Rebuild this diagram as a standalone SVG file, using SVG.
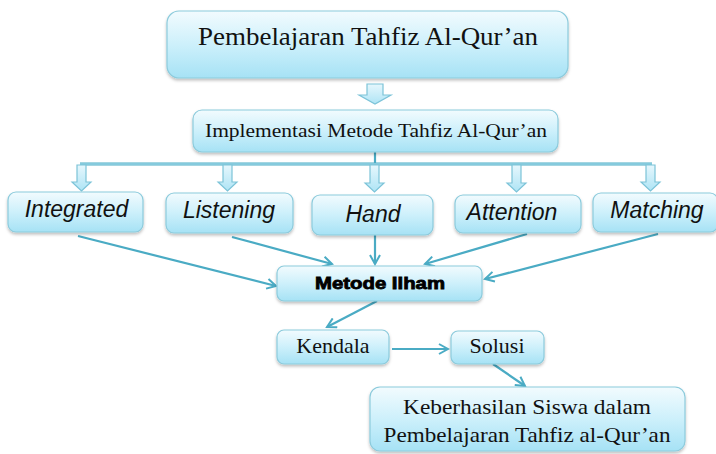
<svg xmlns="http://www.w3.org/2000/svg" width="716" height="454" viewBox="0 0 716 454">
<defs>
<linearGradient id="g" x1="0" y1="0" x2="0" y2="1">
<stop offset="0" stop-color="#f2fbfe"/>
<stop offset="0.5" stop-color="#cdf0fb"/>
<stop offset="1" stop-color="#a6e2f5"/>
</linearGradient>
<linearGradient id="ga" x1="0" y1="0" x2="0" y2="1">
<stop offset="0" stop-color="#e6f7fd"/>
<stop offset="1" stop-color="#aee4f5"/>
</linearGradient>
<filter id="sh" x="-10%" y="-20%" width="120%" height="150%">
<feDropShadow dx="0" dy="2" stdDeviation="1.5" flood-color="#000" flood-opacity="0.25"/>
</filter>
<marker id="ah" viewBox="0 0 12 12" refX="10" refY="6" markerWidth="12" markerHeight="12" markerUnits="userSpaceOnUse" orient="auto">
<path d="M1,1 L10,6 L1,11" fill="none" stroke="#4aabc4" stroke-width="2"/>
</marker>
</defs>
<style>
.box{fill:url(#g);stroke:#8ccbdc;stroke-width:1.2;filter:url(#sh)}
.serif{font-family:"Liberation Serif","DejaVu Serif",serif;fill:#111}
.it{font-family:"Liberation Sans",Arial,sans-serif;font-style:italic;font-size:23px;fill:#111}
.bold{font-family:"Liberation Sans",Arial,sans-serif;font-weight:bold;font-size:17px;fill:#000;stroke:#000;stroke-width:0.8}
.con{stroke:#4aabc4;stroke-width:2.2;fill:none}
.barr{fill:url(#ga);stroke:#7cc3d8;stroke-width:1.2}
</style>

<g id="connectors">
<line class="con" x1="375" y1="152" x2="375" y2="164"/>
<line x1="80" y1="164" x2="652" y2="164" stroke="#4aabc4" stroke-width="3"/>
<line x1="80" y1="164" x2="652" y2="164" stroke="#bfe9f6" stroke-width="1"/>
<path class="barr" d="M367,84 H383 V95 H391 L375,104 L359,95 H367 Z"/>
<path class="barr" d="M77,165 H86 V182 H91 L81.5,191 L72,182 H77 Z"/>
<path class="barr" d="M223,165 H232 V182 H237 L227.5,191 L218,182 H223 Z"/>
<path class="barr" d="M370,165 H379 V183 H384 L374.5,192 L365,183 H370 Z"/>
<path class="barr" d="M512,165 H521 V183 H526 L516.5,192 L507,183 H512 Z"/>
<path class="barr" d="M646,165 H655 V182 H660 L650.5,191 L641,182 H646 Z"/>
<line class="con" x1="78" y1="236" x2="276" y2="286" marker-end="url(#ah)"/>
<line class="con" x1="232" y1="237" x2="332" y2="264" marker-end="url(#ah)"/>
<line class="con" x1="375" y1="235" x2="375" y2="264" marker-end="url(#ah)"/>
<line class="con" x1="527" y1="234" x2="425" y2="264" marker-end="url(#ah)"/>
<line class="con" x1="658" y1="234" x2="485" y2="279" marker-end="url(#ah)"/>
<line class="con" x1="377" y1="301" x2="327" y2="327" marker-end="url(#ah)"/>
<line class="con" x1="392" y1="349" x2="448" y2="349" marker-end="url(#ah)"/>
<line class="con" x1="493" y1="364" x2="525" y2="386" marker-end="url(#ah)"/>
</g>

<g id="n-pembelajaran">
<rect class="box" x="167" y="11" width="401" height="67" rx="12"/>
<text class="serif" x="368" y="45" font-size="25" text-anchor="middle" textLength="340" lengthAdjust="spacingAndGlyphs">Pembelajaran Tahfiz Al-Qur’an</text>
</g>
<g id="n-implementasi">
<rect class="box" x="193" y="110" width="365" height="42" rx="9"/>
<text class="serif" x="376" y="137" font-size="19" text-anchor="middle" textLength="342" lengthAdjust="spacingAndGlyphs">Implementasi Metode Tahfiz Al-Qur’an</text>
</g>
<g id="n-integrated">
<rect class="box" x="8" y="192" width="135" height="40" rx="8"/>
<text class="it" x="76.5" y="217" text-anchor="middle">Integrated</text>
</g>
<g id="n-listening">
<rect class="box" x="166" y="193" width="127" height="40" rx="8"/>
<text class="it" x="229" y="218" text-anchor="middle">Listening</text>
</g>
<g id="n-hand">
<rect class="box" x="312" y="195" width="121" height="40" rx="8"/>
<text class="it" x="373" y="222" font-size="26" text-anchor="middle">Hand</text>
</g>
<g id="n-attention">
<rect class="box" x="455" y="195" width="126" height="38" rx="8"/>
<text class="it" x="512" y="220" text-anchor="middle">Attention</text>
</g>
<g id="n-matching">
<rect class="box" x="593" y="193" width="125" height="39" rx="8"/>
<text class="it" x="657" y="218" text-anchor="middle">Matching</text>
</g>
<g id="n-metode-ilham">
<rect class="box" x="277" y="266" width="205" height="35" rx="7"/>
<text class="bold" x="380" y="289" text-anchor="middle" textLength="130" lengthAdjust="spacingAndGlyphs">Metode Ilham</text>
</g>
<g id="n-kendala">
<rect class="box" x="277" y="330" width="112" height="34" rx="7"/>
<text class="serif" x="333" y="353" font-size="22" text-anchor="middle">Kendala</text>
</g>
<g id="n-solusi">
<rect class="box" x="451" y="331" width="93" height="33" rx="7"/>
<text class="serif" x="497" y="353" font-size="22" text-anchor="middle">Solusi</text>
</g>
<g id="n-keberhasilan">
<rect class="box" x="370" y="387" width="315" height="64" rx="10"/>
<text class="serif" x="527" y="414" font-size="21" text-anchor="middle" textLength="248" lengthAdjust="spacingAndGlyphs">Keberhasilan Siswa dalam</text>
<text class="serif" x="527" y="442" font-size="21" text-anchor="middle" textLength="287" lengthAdjust="spacingAndGlyphs">Pembelajaran Tahfiz al-Qur’an</text>
</g>
</svg>
